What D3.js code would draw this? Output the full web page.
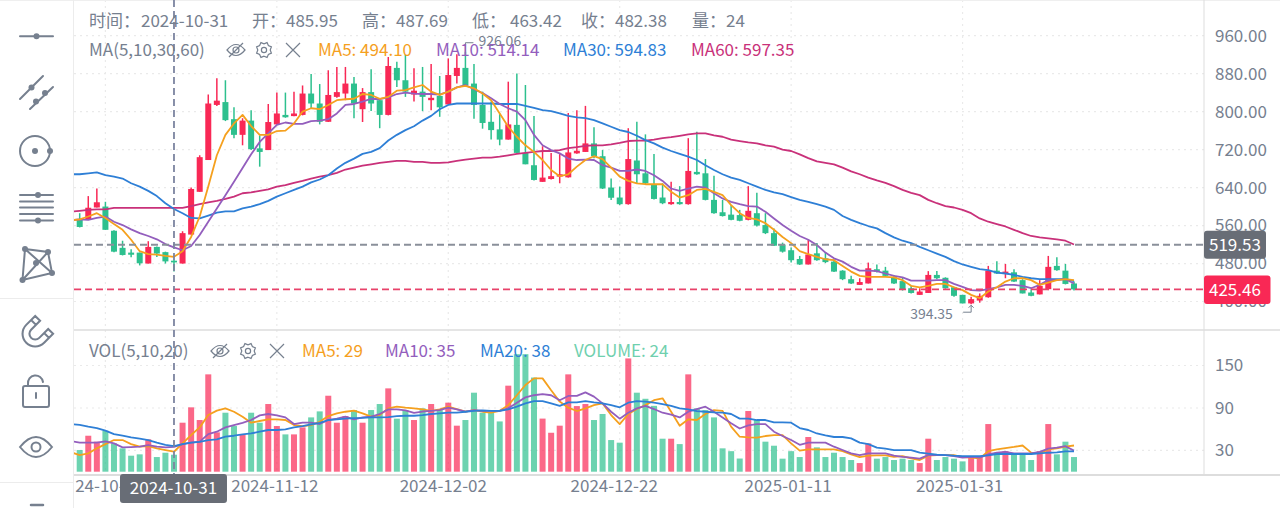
<!DOCTYPE html>
<html>
<head>
<meta charset="utf-8">
<script src="https://cdn.jsdelivr.net/npm/d3@7"></script>
<style>
  html, body { margin: 0; padding: 0; background: #fff; overflow: hidden; }
  text { font-family: "Noto Sans CJK SC", "Noto Sans", sans-serif; }
</style>
</head>
<body>
<svg id="chart" width="1280" height="508"></svg>
<script>
// daily bars, first one is 2024-10-20
const firstDay = '2024-10-20';
const opens = [
  574,573,598,600,549,513,503,503,480,515,
  504,485.95,480,541,631,698,814,820,784,751,
  781,722.5,719,773,793,790.5,793,838,817,778.5,
  831,838,859,805,841,824,793,892,866,836,
  842,824,833,815,875,892,859,814,778.5,762.5,
  741,772,713,687,652,658,663,661.5,712,715,
  733,706,640,619,605,697,670,647,619,605,
  609.5,605,673,670,614,588,583,582,572,586,
  561,544,520,508,489.5,478,501.5,491,484,465,
  447,435,438,468,465,451,443,428,414,418,
  456,450,430,414,396,402,409,465,458,461.5,
  445,419,415,426,475,465,438
];
const closes = [
  557,597.5,609,551,505,498,498.5,480.5,515,501,
  484.5,482.38,544,637,704,817,823,782,751,781,
  721,715,778,796,788,796,838,817,778.5,835,
  841,859,817,841,817,793,896,866,842,844,
  831,829,809,877,892,856,814,776,761,741,
  773,713,689,656,661,664,668,714,717.5,733,
  706,638,618.5,605,700,668,649,616,607,609.5,
  605,675,668,614,586,580,572,570,591,560,
  544,517.5,505,487,478,499,487,483,463,447,
  438,441,470,463,454,438,426,418,421,456,
  449,428,412,396,405,412,465,459,463,442,
  417,412,433,473,466,437,425.46
];
const highs = [
  586,622,638,610,550,528,510,503,527,516,
  505,487.69,548,640,708,836,870,866,809,786,
  803,750,816,840,840,842,855,879,858,887,
  894,894,873,849.5,889,828,915,905,919,891,
  894,900,875,912,921,926.06,900,842,821,796,
  863,880,856,790.5,727,713,710.5,797,803,812,
  767,719,659,642,765,778.5,752,710.5,649,652,
  643,744,757.5,700,665,614,603,593,643,629,
  586,554,524,514,496,529.5,523,504,489,466,
  454,449,482,478,473,456,451,433,428,464,
  464,451,431,414,410,417,475,485,479,468,
  447,426,445,496,493,479,442
];
const lows = [
  556,572,598,551,504,497,493,476,480,494,
  480,463.42,480,541,631,698,812,780,744,729,
  719,684,719,773,787,790,792,807,773,778,
  829,824,786,778,801,765,792,852,831,821,
  801,803,789,815,859,853,785,764,741,729,
  741,713,689,655,652,657,649,661,711,715,
  701.5,637,614,603,604,649,647,615,605,604,
  604,604,667,613,585,579,571,569,571,558,
  542,517,503,482,477,478,486,481,462,445,
  437,435,438,461,452,437,423,417,414,418,
  447,427,410,396,394.35,397.5,408,458,449,441,
  417,411,415,424,465,436,423
];
const volumes = [
  30.6,50.8,42.4,57.9,40,33,22.6,24.5,45.7,20.7,
  26.8,24,69.2,90.9,73,137.5,55.6,83.3,64.5,52.7,
  83.3,69.2,95.6,64.5,52.7,52.7,62.6,76.7,85.2,107.3,
  69.2,78.6,87.1,69.2,87.1,95.6,117.7,74.9,87.1,73,
  89.5,95.6,87,97.5,65,73,111.6,83.3,83.3,71,
  121.5,166,166,133,75,55,65,137.5,92.7,95.6,
  73,81.5,44.7,41,160,111.6,103,93,46.6,46.6,
  39,137.5,89.5,87,76.7,33,29,18.6,85.7,73,
  42.4,36.7,18.4,29,20.7,49,34.4,20.7,26.8,20.7,
  16.5,12.2,40,18.4,20.7,16.5,18.4,16.5,12.2,46.6,
  16.5,20.7,18.4,14.6,20.7,20.7,67.3,26.8,29,24.5,
  24.5,16.5,29,67.3,24.5,42.4,20.7
];

// moving averages: the first value belongs to the day before firstDay (cut by the pane edge)
const ma5 = [571,
  573,579,586,576,563,551,530,506,500,498.6,
  496,494.1,506,536,579,642,708,751,775,793,
  769.5,751,751,759,760,775,800,807,805,814,
  824,826,827,837,835,827,831,844,845,851,
  856,842,835,842,851,854,849,838,824,796,
  768,747,729,715,698,677,664,668,684,698,
  706,700,682,663,654,649,647,647,647,631,
  619,624,635,637,631,624,603,586,576,573,
  565,551,536,523,506,500,494,489,487,475,
  463,454,452,452,452,451,445,433,430,433,
  437,437,430,424,414,407,421,430,442,449,
  449,445,435,440,445,447,445
];
const ma10 = [571,
  573,572,576,579,568,561,552,544,538,531,
  521,514.14,508,517,540,568,596,624,652,681,
  710,736,754,772,777,774,774,780,781,784,
  796,814,816,821,827,826,830,837,840,838,
  837,837,836,842,851,856,847,839,828,816,
  807,800,782,751,729,719,712,701,698,699,
  698,687,682,675,675,678,675,666,654,638,
  633,638,642,640,628,617,610,605,601,600,
  589,575,561,549,538,530,519,503,491,484,
  473,465,465,464,459,454,451,444,444,444,
  445,445,437,431,424,423,426,430,435,435,
  433,428,435,445,445,447,438
];
const ma30 = [668,
  668,670,672,666,663,659,649,642,633,622,
  607,594.83,586,576,575,581,587,590,590,596,
  600,605,612,621,628,635,642,651,657,666,
  680,692,701,711,715,723,739,751,761,769,
  781,791,805,814,817,817,817,817,817,816,
  816,816,812,808,803,801,796,791,788,786,
  782,775,768,761,757,749,740,733,724,717,
  711,705,698,687,677,668,661,656,649,642,
  635,630,626,620,614,610,605,600,593,580,
  572,565,559,554,544,535,528,523,515,508,
  501,494,485,478,473,468,466,461,459,456,
  452,449,447,447,447,447,443
];
const ma60 = [589,
  591,593,594,594,597,597,597,597,597,597,
  597,597.35,597,601,605,609,612,616,621,628,
  630,633,636,642,645,650,654,659,663,666,
  671,678,682,686,689,692,694,696,696,694,
  694,692,692,693,696,699,701,703,703,705,
  708,711,713,715,717,717,719,723,725,728,
  729,729,731,734,738,739,739,741,744,746,
  749,752,754,754,750,747,741,738,735,733,
  729,726,720,717,710,702,695,692,689,682,
  674,668,661,655,650,643,635,629,624,614,
  607,601,598,593,586,575,568,563,558,551,
  544,538,535,533,531,528,520
];
const volMa5 = [27.3,
  23.5,25.9,33,39,44.7,44.7,39,35.3,36,33,
  30.6,28.2,40,51.8,62.6,80,86.2,89.5,84.7,77.7,
  69.2,71.6,73.9,73.9,73,65.9,64.5,65.9,70.6,78.6,
  82.4,84.7,86.2,82.4,77.7,80,89.5,91.8,90.4,89.5,
  88,86,88,91.8,88.5,84.7,87,84.7,83.3,86,
  94,108,122.4,131.8,131.8,115,99,90.4,85.7,89.5,
  94,96.5,80,67.3,81.5,88.5,94,101,103.6,84.7,
  65,74,73,81.5,87,86,63.6,49.4,48.5,48,
  50.4,51.8,51.8,40,29.7,31.5,31.5,31.5,31.5,29,
  24.5,20.7,22.6,23,23,21,22,18.8,16.5,22.6,
  23.5,23.5,23.5,20.7,19.8,18.8,29,31.5,33.4,35,
  37,27,26,31.5,33,35.3,37
];
const volMa10 = [43.3,
  41,41,41,42.8,40,34.4,34.8,35.3,37.7,35.3,
  34.4,35,39,41,42.4,53,56.5,62.6,65.9,69,
  73,79.6,81.5,79.6,76.7,67.3,69.2,69.2,67.3,73,
  75,77.7,73.9,76.7,77.7,81.5,88,88,86.5,83,
  85,86,87,90.4,88,85,87,86,86,86,
  89.5,97.5,105,108,109.7,108,101,107,107,112,
  106,96.5,84.7,74.9,83.3,89.5,93,88.5,83.3,80.5,
  76.7,84.7,88.5,91.8,84.7,76.7,68.3,61,65.4,67.3,
  67.3,56.5,50.4,44.7,38,41,41,41,35.3,30.6,
  26,23.5,26,26,26,22.6,21,20,18.4,23.5,
  23.5,23.5,22,20,21,20,24.5,26.8,28,26,
  26,26,28,32.5,34,36,29.7
];
const volMa20 = [67.3,
  66,63.6,61.7,58,53,50.8,48.5,46.6,44.7,41,
  38,36,39,41,42,44.7,45.7,49.4,50.8,52.7,
  54,56.5,58.9,58.9,59.8,62.6,64.5,66.9,69,73,
  74,75,75.8,76,76.7,76.7,77,78.6,79,79,
  80,81.5,82.4,83.3,83.3,84.7,86,86.6,86,86,
  88,91.8,96.5,99.8,99.8,96.5,93,98,98,99.8,
  98,96.5,94,91,97.5,99.8,99,97.5,95.6,93,
  89.5,88,85.7,84.7,83.8,83.3,81.5,75,74.9,73,
  73,69.7,69.7,69.2,61.7,58.9,54,51.3,49,49,
  47,41,39,33.9,32.5,30.6,30.6,30.6,26.8,25.4,
  24,23.5,22.6,22,22,22,23,25,25,25,
  25,25,26,26.8,27.3,28.7,28.7
];

const priceTicks = [400, 480, 560, 640, 720, 800, 880, 960];
const volTicks = [30, 90, 150];
const dateTicks = ['2024-10-23', '2024-11-12', '2024-12-02', '2024-12-22', '2025-01-11', '2025-01-31'];

const crossDay = '2024-10-31';
const crossPrice = 519.53;
const lastPrice = 425.46;
const maxPrice = 926.06;
const minPrice = 394.35;

const infoLabels = ['时间：', '开：', '高：', '低：', '收：', '量：'];
const infoValues = ['2024-10-31', '485.95', '487.69', '463.42', '482.38', '24'];
const maLegend = ['MA5: 494.10', 'MA10: 514.14', 'MA30: 594.83', 'MA60: 597.35'];
const volLegend = ['MA5: 29', 'MA10: 35', 'MA20: 38', 'VOLUME: 24'];

const upColor = '#F92855', downColor = '#2DC08E';
const textColor = '#76808F', gridColor = '#EAEAEA', axisColor = '#DDDDDD', tagColor = '#686D76';
const maColors = ['#F5A01E', '#935EBD', '#2E7FD6', '#C9317A'];

const paneLeft = 74, paneRight = 1204, priceBottom = 330, volBottom = 475;
const fontSize = 17;

const parseDay = d3.utcParse('%Y-%m-%d');
const formatDay = d3.utcFormat('%Y-%m-%d');
const start = parseDay(firstDay);
const dayOf = i => d3.utcDay.offset(start, i);

const x = d3.scaleUtc().domain([start, dayOf(116)]).range([79.7, 1074]);
const y = d3.scaleLinear().domain([340, 1035]).range([330, 0]);
const yVol = d3.scaleLinear().domain([0, 150]).range([471.7, 365.5]);

const svg = d3.select('#chart');

const defs = svg.append('defs');
defs.append('clipPath').attr('id', 'pricePane').append('rect')
  .attr('x', paneLeft).attr('y', 0).attr('width', paneRight - paneLeft).attr('height', priceBottom);
defs.append('clipPath').attr('id', 'volPane').append('rect')
  .attr('x', paneLeft).attr('y', priceBottom).attr('width', paneRight - paneLeft).attr('height', volBottom - priceBottom);
defs.append('clipPath').attr('id', 'datePane').append('rect')
  .attr('x', paneLeft + 1).attr('y', volBottom).attr('width', 1205).attr('height', 33);

// grid
const grid = svg.append('g').attr('stroke', gridColor).attr('stroke-dasharray', '2 4').attr('stroke-width', 1.2);
grid.selectAll('.gx').data(dateTicks).enter().append('line')
  .attr('x1', d => x(parseDay(d))).attr('x2', d => x(parseDay(d)))
  .attr('y1', 0).attr('y2', volBottom);
grid.selectAll('.gy').data(priceTicks).enter().append('line')
  .attr('x1', paneLeft).attr('x2', paneRight).attr('y1', d => y(d)).attr('y2', d => y(d));
grid.selectAll('.gv').data(volTicks).enter().append('line')
  .attr('x1', paneLeft).attr('x2', paneRight).attr('y1', d => yVol(d)).attr('y2', d => yVol(d));

// frame
const frame = svg.append('g').attr('stroke', axisColor);
frame.append('line').attr('x1', 0).attr('x2', 1280).attr('y1', 0.5).attr('y2', 0.5).attr('stroke', '#EFEFEF');
frame.append('line').attr('x1', 73.5).attr('x2', 73.5).attr('y1', 0).attr('y2', 508).attr('stroke', '#ECECEC');
frame.append('line').attr('x1', paneRight).attr('x2', paneRight).attr('y1', 0).attr('y2', volBottom);
frame.append('line').attr('x1', paneLeft).attr('x2', 1280).attr('y1', priceBottom).attr('y2', priceBottom).attr('stroke-width', 1.5);
frame.append('line').attr('x1', paneLeft).attr('x2', 1280).attr('y1', volBottom).attr('y2', volBottom).attr('stroke-width', 2);
frame.append('line').attr('x1', 0).attr('x2', 73).attr('y1', 298.5).attr('y2', 298.5).attr('stroke', '#ECECEC');
frame.append('line').attr('x1', 0).attr('x2', 73).attr('y1', 482.5).attr('y2', 482.5).attr('stroke', '#ECECEC');

// candles
const bars = opens.map((o, i) => ({ day: dayOf(i), open: o, close: closes[i], high: highs[i], low: lows[i], vol: volumes[i] }));
const barColor = d => d.close >= d.open ? upColor : downColor;
const barW = 6;

const candles = svg.append('g').attr('clip-path', 'url(#pricePane)');
candles.selectAll('.wick').data(bars).enter().append('line')
  .attr('x1', d => x(d.day)).attr('x2', d => x(d.day))
  .attr('y1', d => y(d.high)).attr('y2', d => y(d.low))
  .attr('stroke', barColor).attr('stroke-width', 1.5);
candles.selectAll('.body').data(bars).enter().append('rect')
  .attr('x', d => x(d.day) - barW / 2).attr('width', barW)
  .attr('y', d => y(Math.max(d.open, d.close)))
  .attr('height', d => Math.max(1, Math.abs(y(d.open) - y(d.close))))
  .attr('fill', barColor);

// moving average lines
function drawLines(parent, series, scale) {
  const line = d3.line().x((d, i) => x(dayOf(i - 1))).y(d => scale(d.v));
  series.forEach(s => {
    parent.append('path')
      .attr('d', line(s.values.map(v => ({ v }))))
      .attr('fill', 'none')
      .attr('stroke', s.color)
      .attr('stroke-width', 1.8)
      .attr('stroke-linejoin', 'round');
  });
}
drawLines(candles, [
  { values: ma60, color: maColors[3] },
  { values: ma30, color: maColors[2] },
  { values: ma10, color: maColors[1] },
  { values: ma5, color: maColors[0] }
], y);

// volume
const volPane = svg.append('g').attr('clip-path', 'url(#volPane)');
volPane.selectAll('.vol').data(bars).enter().append('rect')
  .attr('x', d => x(d.day) - barW / 2).attr('width', barW)
  .attr('y', d => yVol(d.vol)).attr('height', d => yVol(0) - yVol(d.vol))
  .attr('fill', barColor).attr('fill-opacity', 0.7);
drawLines(volPane, [
  { values: volMa5, color: maColors[0] },
  { values: volMa10, color: maColors[1] },
  { values: volMa20, color: maColors[2] }
], yVol);

// axes
const priceAxis = svg.append('g').attr('transform', `translate(${paneRight},0)`)
  .call(d3.axisRight(y).tickValues(priceTicks).tickFormat(d3.format('.2f')).tickSize(0).tickPadding(11));
const volAxis = svg.append('g').attr('transform', `translate(${paneRight},0)`)
  .call(d3.axisRight(yVol).tickValues(volTicks).tickFormat(d3.format('d')).tickSize(0).tickPadding(11));
const dateAxis = svg.append('g').attr('clip-path', 'url(#datePane)')
  .call(d3.axisBottom(x).tickValues(dateTicks.map(parseDay)).tickFormat(formatDay).tickSize(0).tickPadding(5));
// the labels do not sit exactly under their grid lines in the original
const labelShift = [-5.5, -2, -5, -5.5, -3, -3];
dateAxis.selectAll('.tick').attr('transform', (d, i) => `translate(${x(d) + labelShift[i]},${volBottom})`);
[priceAxis, volAxis, dateAxis].forEach(a => {
  a.select('.domain').remove();
  a.selectAll('text').attr('fill', textColor).attr('font-size', fontSize).attr('font-family', '"Noto Sans CJK SC"');
});

// high / low marks
const markText = (px, py, txt) => svg.append('text').attr('x', px).attr('y', py)
  .attr('dy', '0.35em').attr('fill', textColor).attr('font-size', 14).text(txt);
const maxX = x(dayOf(highs.indexOf(maxPrice)));
svg.append('path').attr('d', `M${maxX},${y(maxPrice)}V${y(maxPrice) - 9}H${maxX + 8}`)
  .attr('fill', 'none').attr('stroke', textColor).attr('stroke-width', 1);
markText(maxX + 13, 41, maxPrice.toFixed(2));
const minX = x(dayOf(lows.indexOf(minPrice)));
svg.append('path').attr('d', `M${minX - 8},${y(minPrice) + 8}H${minX}V${y(minPrice) + 1}M${minX - 2.5},${y(minPrice) + 3.5}L${minX},${y(minPrice) + 1}L${minX + 2.5},${y(minPrice) + 3.5}`)
  .attr('fill', 'none').attr('stroke', textColor).attr('stroke-width', 1);
markText(minX - 61, 314, minPrice.toFixed(2));

// last price and crosshair
const dashed = (x1, x2, y1, y2, color) => svg.append('line')
  .attr('x1', x1).attr('x2', x2).attr('y1', y1).attr('y2', y2)
  .attr('stroke', color).attr('stroke-width', 1.8).attr('stroke-dasharray', '7 4');
dashed(paneLeft, paneRight, y(lastPrice), y(lastPrice), '#E8426A');
dashed(paneLeft, paneRight, y(crossPrice), y(crossPrice), '#8A909A');
const crossX = x(parseDay(crossDay));
dashed(crossX, crossX, 0, volBottom, '#7C84A0');

function tag(tx, ty, tw, th, fill, txt, anchor) {
  svg.append('rect').attr('x', tx).attr('y', ty).attr('width', tw).attr('height', th).attr('rx', 3).attr('fill', fill);
  svg.append('text').attr('x', anchor === 'middle' ? tx + tw / 2 : tx + 5).attr('y', ty + th / 2)
    .attr('dy', '0.35em').attr('text-anchor', anchor).attr('fill', '#fff').attr('font-size', fontSize).text(txt);
}
tag(paneRight, y(crossPrice) - 14, 62, 28, tagColor, crossPrice.toFixed(2), 'start');
tag(paneRight, y(lastPrice) - 14, 66.5, 28.5, upColor, lastPrice.toFixed(2), 'start');
tag(crossX - 54, volBottom - 1, 107, 29, tagColor, crossDay, 'middle');

// legends
const legend = (px, py, txt, color) => svg.append('text').attr('x', px).attr('y', py)
  .attr('dy', '0.35em').attr('fill', color).attr('font-size', fontSize).text(txt);

[89, 252, 362, 472, 581, 692].forEach((px, i) => {
  legend(px, 21, infoLabels[i], textColor);
  legend(px + [52, 34, 34, 38, 34, 34][i], 21, infoValues[i], textColor);
});
legend(89, 50, 'MA(5,10,30,60)', textColor);
[318, 436, 563, 691].forEach((px, i) => legend(px, 50, maLegend[i], maColors[i]));
legend(89, 351, 'VOL(5,10,20)', textColor);
[302, 385, 480].forEach((px, i) => legend(px, 351, volLegend[i], maColors[i]));
legend(574, 351, volLegend[3], '#6FD0AE');

function legendIcons(ex, gx, cx, cy) {
  const g = svg.append('g').attr('fill', 'none').attr('stroke', textColor).attr('stroke-width', 1.2);
  g.append('path').attr('d', `M${ex - 9},${cy}Q${ex},${cy - 11} ${ex + 9},${cy}Q${ex},${cy + 11} ${ex - 9},${cy}Z`);
  g.append('circle').attr('cx', ex).attr('cy', cy).attr('r', 3);
  g.append('line').attr('x1', ex - 7).attr('x2', ex + 7).attr('y1', cy + 7).attr('y2', cy - 7);
  const pts = d3.range(16).map(k => {
    const r = k % 2 ? 8 : 6.2, a = k * Math.PI / 8;
    return [gx + r * Math.sin(a), cy + r * Math.cos(a)];
  });
  g.append('path').attr('d', d3.line().curve(d3.curveLinearClosed)(pts));
  g.append('circle').attr('cx', gx).attr('cy', cy).attr('r', 2.6);
  g.append('path').attr('d', `M${cx - 7},${cy - 7}L${cx + 7},${cy + 7}M${cx + 7},${cy - 7}L${cx - 7},${cy + 7}`);
}
legendIcons(236, 264, 293, 50);
legendIcons(220, 248, 277, 351);

// toolbar
const tools = svg.append('g').attr('fill', 'none').attr('stroke', textColor).attr('stroke-width', 2).attr('stroke-linecap', 'round');
const dot = (cx, cy) => tools.append('circle').attr('cx', cx).attr('cy', cy).attr('r', 3).attr('fill', textColor).attr('stroke', 'none');
tools.append('path').attr('d', 'M20,36.3H53');
dot(36.5, 36.3);
tools.append('path').attr('d', 'M20,99L43,76M30,109L53,87');
dot(31.5, 87.5); dot(36, 101.5); dot(45, 93);
tools.append('circle').attr('cx', 35).attr('cy', 151).attr('r', 15);
dot(35, 151); dot(50, 151);
tools.append('path').attr('d', 'M20,195H53M20,201.5H53M20,207.5H53M20,214H53M20,220.5H53');
dot(38, 195); dot(38, 220.5);
tools.append('path').attr('d', 'M25,249L48,252L52,273L22.5,280ZM25,249L52,273M48,252L22.5,280');
dot(25, 249); dot(48, 252); dot(52, 273); dot(22.5, 280); dot(36, 263);
tools.append('path').attr('transform', 'translate(36,333) rotate(45) scale(1.15)')
  .attr('stroke-width', 1.8)
  .attr('d', 'M-11,-10V1A11,11 0 0 0 11,1V-10H5V1A5,5 0 0 1 -5,1V-10ZM-11,-5H-5M5,-5H11');
tools.append('rect').attr('x', 23).attr('y', 386).attr('width', 26).attr('height', 21).attr('rx', 2);
tools.append('path').attr('d', 'M28,386V384A7.5,7.5 0 0 1 43,382M36,393V398');
tools.append('path').attr('d', 'M20,447Q36,427 52,447Q36,467 20,447Z');
tools.append('circle').attr('cx', 36).attr('cy', 447).attr('r', 4.5);
tools.append('path').attr('d', 'M31,505H43').attr('stroke-width', 2.5);
</script>
</body>
</html>
